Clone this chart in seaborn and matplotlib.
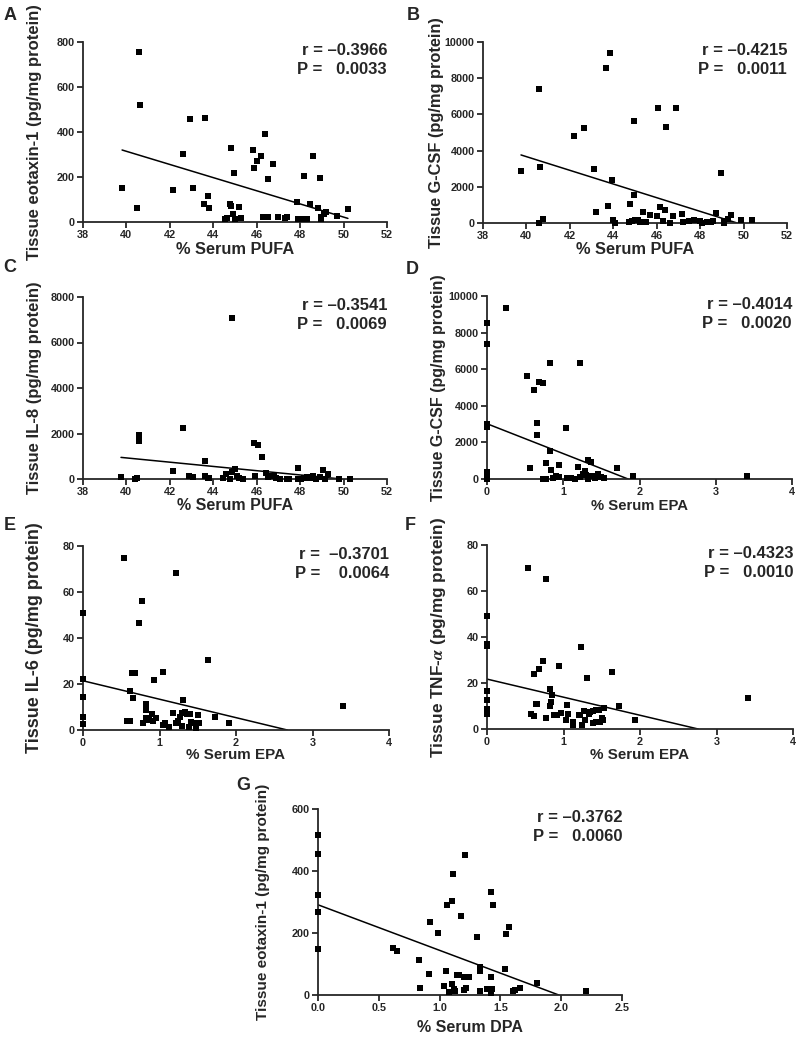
import seaborn as sns
import matplotlib.pyplot as plt
import pandas as pd

# datos
pufa_a = [39.8, 40.49, 40.56, 40.61, 42.14, 42.6, 42.93, 43.05, 43.57, 43.6, 43.76, 43.8, 44.55, 44.65,
          44.79, 44.83, 44.83, 44.9, 44.94, 45.0, 45.18, 45.27, 45.85, 45.88, 46.0, 46.2, 46.3, 46.4,
          46.5, 46.54, 46.75, 47.0, 47.3, 47.4, 47.86, 47.9, 48.05, 48.2, 48.3, 48.46, 48.6, 48.8,
          48.9, 48.95, 48.98, 49.1, 49.2, 49.7, 50.2]
eotaxin_a = [149, 64, 756, 518, 142, 303, 456, 151, 81, 462, 115, 61, 12, 18,
             78, 72, 331, 37, 219, 12, 65, 19, 322, 238, 271, 293, 24, 393,
             24, 189, 257, 24, 16, 24, 89, 12, 15, 204, 12, 78, 293, 61,
             197, 12, 24, 34, 44, 27, 59]

pufa_b = [39.75, 40.56, 40.64, 40.6, 40.76, 42.2, 42.65, 43.1, 43.22, 43.65, 43.74, 43.85, 43.94,
          43.99, 44.1, 44.72, 44.79, 44.85, 44.94, 44.95, 45.0, 45.15, 45.25, 45.37, 45.5, 45.68,
          46.0, 46.05, 46.17, 46.3, 46.4, 46.45, 46.6, 46.75, 46.9, 47.16, 47.2, 47.5, 47.7, 48.0,
          48.1, 48.3, 48.5, 48.6, 48.75, 48.96, 49.08, 49.1, 49.3, 49.4, 49.88, 50.39]
gcsf_b = [2850, 0, 3070, 7400, 240, 4800, 5270, 3010, 590, 8560, 920, 9390, 2370,
          150, 0, 80, 1035, 120, 1530, 5660, 150, 180, 60, 610, 40, 425,
          370, 6340, 890, 120, 700, 5320, 20, 370, 6340, 480, 30, 120, 150, 120,
          0, 30, 60, 100, 555, 2770, 90, 10, 240, 425, 185, 185]

pufa_c = [39.75, 40.4, 40.47, 40.56, 40.6, 42.13, 42.6, 42.9, 43.05, 43.6, 43.6, 43.75, 43.8, 44.46,
          44.58, 44.76, 44.88, 44.86, 45.0, 45.1, 45.2, 45.36, 45.88, 45.92, 46.04, 46.24, 46.43,
          46.5, 46.6, 46.8, 46.9, 47.05, 47.4, 47.5, 47.9, 47.9, 48.05, 48.2, 48.3, 48.45, 48.6,
          48.75, 48.9, 49.04, 49.15, 49.3, 49.8, 50.3]
il8_c = [90, 10, 30, 1940, 1690, 365, 2250, 120, 90, 775, 120, 60, 30, 45,
         220, 0, 305, 7080, 440, 120, 45, 0, 1580, 120, 1475, 950, 265,
         75, 120, 120, 45, 0, 0, 0, 480, 10, 20, 60, 90, 40, 150,
         20, 80, 395, 0, 235, 15, 0]

epa_d = [0, 0, 0, 0, 0, 0, 0, 0.25, 0.53, 0.57, 0.62, 0.66, 0.66, 0.68, 0.73, 0.74, 0.77, 0.78,
         0.83, 0.83, 0.84, 0.86, 0.9, 0.94, 0.95, 1.04, 1.05, 1.1, 1.15, 1.19, 1.22, 1.22, 1.26,
         1.28, 1.3, 1.32, 1.33, 1.36, 1.38, 1.42, 1.45, 1.5, 1.53, 1.71, 1.91, 3.41]
gcsf_d = [8520, 7400, 3020, 2840, 380, 200, 0, 9360, 5630, 620, 4850, 3060, 2390, 5300, 5250, 0, 890, 20,
          6340, 1530, 470, 60, 150, 750, 120, 2770, 50, 80, 20, 655, 6340, 120, 300,
          420, 200, 1060, 10, 950, 140, 60, 250, 130, 80, 620, 145, 160]

epa_e = [0, 0, 0, 0, 0, 0.54, 0.57, 0.61, 0.61, 0.64, 0.66, 0.68, 0.73, 0.77, 0.78, 0.83, 0.83,
         0.83, 0.86, 0.9, 0.92, 0.93, 0.96, 1.04, 1.05, 1.07, 1.13, 1.18, 1.22, 1.22, 1.24, 1.27,
         1.29, 1.29, 1.31, 1.33, 1.36, 1.38, 1.4, 1.41, 1.44, 1.48, 1.5, 1.52, 1.64, 1.72, 1.91, 3.4]
il6_e = [51, 22, 14.2, 5.8, 2.6, 74.9, 4.1, 16.8, 3.8, 24.9, 13.8, 24.8, 46.4, 55.9, 2.9, 11.2, 8.7,
         5.1, 4.3, 7.0, 4.1, 21.6, 5.1, 2.2, 25.2, 2.9, 1.2, 7.2, 68.4, 2.9, 4.1, 5.8,
         1.7, 7.2, 13.0, 8.0, 7.0, 1.2, 7.0, 3.6, 2.9, 0.7, 6.5, 2.9, 30.4, 5.7, 2.9, 10.4]

epa_f = [0, 0, 0, 0, 0, 0, 0, 0, 0.54, 0.57, 0.61, 0.62, 0.64, 0.66, 0.68, 0.73, 0.77, 0.77,
         0.83, 0.83, 0.84, 0.85, 0.87, 0.92, 0.94, 0.97, 1.03, 1.04, 1.06, 1.12, 1.13, 1.2, 1.22,
         1.23, 1.24, 1.27, 1.28, 1.31, 1.33, 1.35, 1.38, 1.39, 1.43, 1.43, 1.47, 1.48, 1.5, 1.52,
         1.53, 1.64, 1.73, 1.93, 3.41]
tnf_f = [49.2, 36.9, 35.9, 16.6, 12.4, 8.7, 7.7, 6.7, 69.9, 6.5, 5.5, 24.0, 10.9, 11.0, 26.2, 29.7, 65.4, 4.8,
         17.4, 9.8, 11.6, 14.6, 6.1, 6.2, 27.2, 6.9, 4.1, 10.3, 6.7, 3.0, 1.9, 6.2, 5.9,
         35.6, 1.9, 8.0, 3.8, 22.1, 6.7, 7.4, 2.6, 8.0, 8.4, 3.0, 8.4, 3.0, 4.8, 3.8,
         9.1, 25.0, 10.1, 3.8, 13.5]

dpa_g = [0, 0, 0, 0, 0, 0.62, 0.65, 0.83, 0.84, 0.91, 0.92, 0.99, 1.04, 1.05, 1.06, 1.08, 1.1, 1.1,
         1.11, 1.12, 1.13, 1.14, 1.16, 1.18, 1.2, 1.2, 1.21, 1.22, 1.24, 1.31, 1.33, 1.33, 1.33,
         1.39, 1.42, 1.42, 1.42, 1.43, 1.44, 1.54, 1.55, 1.57, 1.6, 1.62, 1.66, 1.8, 2.2]
eotaxin_g = [517, 455, 323, 269, 148, 151, 142, 113, 23, 68, 237, 199, 28, 77, 291, 10, 34, 302,
             390, 20, 12, 66, 64, 256, 58, 16, 453, 22, 59, 186, 89, 79, 12,
             19, 59, 331, 8, 19, 289, 84, 196, 218, 14, 16, 22, 40, 14]

# lineas de regresion (extremos leidos)
fit_x = {"A": [39.8, 50.2], "B": [39.75, 49.7], "C": [39.75, 49.9], "D": [0, 1.85],
         "E": [0, 2.67], "F": [0, 2.76], "G": [0, 1.98]}
fit_y = {"A": [320, 16], "B": [3760, 0], "C": [950, 0], "D": [3020, 0],
         "E": [21.4, 0], "F": [21.7, 0], "G": [291, 0]}

r_text = {"A": "r = \u20130.3966", "B": "r = \u20130.4215", "C": "r = \u20130.3541", "D": "r = \u20130.4014",
          "E": "r =  \u20130.3701", "F": "r = \u20130.4323", "G": "r = \u20130.3762"}
p_text = {"A": "P =   0.0033", "B": "P =   0.0011", "C": "P =   0.0069", "D": "P =   0.0020",
          "E": "P =    0.0064", "F": "P =   0.0010", "G": "P =   0.0060"}

sns.set_style("ticks")
plt.rcParams['font.family'] = ['Liberation Sans', 'DejaVu Sans']
plt.rcParams['font.weight'] = 'bold'
plt.rcParams['mathtext.fontset'] = 'stix'

W, H = 800, 1037
fig = plt.figure(figsize=(W / 100, H / 100), dpi=100)


def caja(l, r, t, b):
    return [l / W, 1 - b / H, (r - l) / W, (b - t) / H]


paneles = [
    # letra, x, y, caja(px), xlim, xticks, ylim, yticks, xlabel, ylabel,
    # x del ylabel, tamano del ylabel, linea base del xlabel, tamano del xlabel
    ("A", pufa_a, eotaxin_a, (83, 387, 42, 222), (38, 52), range(38, 53, 2), (0, 800), range(0, 801, 200),
     "% Serum PUFA", "Tissue eotaxin-1 (pg/mg protein)", 35, 12, 254, 11.8),
    ("B", pufa_b, gcsf_b, (483, 787, 42, 223), (38, 52), range(38, 53, 2), (0, 10000), range(0, 10001, 2000),
     "% Serum PUFA", "Tissue G-CSF (pg/mg protein)", 436, 11.8, 254, 11.8),
    ("C", pufa_c, il8_c, (83, 387, 297, 479), (38, 52), range(38, 53, 2), (0, 8000), range(0, 8001, 2000),
     "% Serum PUFA", "Tissue IL-8 (pg/mg protein)", 35, 12, 510, 11.5),
    ("D", epa_d, gcsf_d, (487, 792, 296, 479), (0, 4), range(0, 5), (0, 10000), range(0, 10001, 2000),
     "% Serum EPA", "Tissue G-CSF (pg/mg protein)", 438, 11.5, 510, 10.7),
    ("E", epa_e, il6_e, (83, 389, 546, 730), (0, 4), range(0, 5), (0, 80), range(0, 81, 20),
     "% Serum EPA", "Tissue IL-6 (pg/mg protein)", 35, 13, 759, 10.9),
    ("F", epa_f, tnf_f, (487, 793, 545, 729), (0, 4), range(0, 5), (0, 80), range(0, 81, 20),
     "% Serum EPA", r"Tissue TNF-$\alpha$ (pg/mg protein)", 438, 12.4, 759, 10.9),
    ("G", dpa_g, eotaxin_g, (318, 622, 809, 995), (0, 2.5), [0, 0.5, 1.0, 1.5, 2.0, 2.5], (0, 600),
     range(0, 601, 200), "% Serum DPA", "Tissue eotaxin-1 (pg/mg protein)", 263, 11, 1032, 11.5),
]

for letra, xs, ys, px, xlim, xticks, ylim, yticks, xlab, ylab, ylx, yls, xlb, xls in paneles:
    l, r, t, b = px
    ax = fig.add_axes(caja(l, r, t, b))
    df = pd.DataFrame({"x": xs, "y": ys})
    sns.scatterplot(data=df, x="x", y="y", ax=ax, marker="s", color="black", s=24,
                    linewidth=0, clip_on=False, zorder=3)
    ax.plot(fit_x[letra], fit_y[letra], color="black", lw=1.1)
    ax.set_xlim(xlim)
    ax.set_ylim(ylim)
    ax.set_xticks(list(xticks))
    ax.set_yticks(list(yticks))
    if letra == "G":
        ax.set_xticklabels(["0.0", "0.5", "1.0", "1.5", "2.0", "2.5"])
    sns.despine(ax=ax)
    for lado in ["left", "bottom"]:
        ax.spines[lado].set_linewidth(1.3)
    ax.tick_params(direction="out", length=4, width=1.3, labelsize=7.8, pad=2)
    for tl in ax.get_xticklabels() + ax.get_yticklabels():
        tl.set_fontweight("bold")
    ax.set_xlabel("")
    ax.set_ylabel("")
    fig.text(((l + r) / 2) / W, 1 - xlb / H, xlab, ha="center", va="baseline",
             fontsize=xls, fontweight="bold")
    fig.text(ylx / W, 1 - ((t + b) / 2) / H, ylab, ha="center", va="center", rotation=90,
             fontsize=yls, fontweight="bold")
    ax.text(1.0, 0.955, r_text[letra], transform=ax.transAxes, ha="right", va="center",
            fontsize=12, fontweight="bold")
    ax.text(1.0, 0.85, p_text[letra], transform=ax.transAxes, ha="right", va="center",
            fontsize=12, fontweight="bold")

letras = {"A": (10, 15), "B": (413, 15), "C": (10, 268), "D": (412, 270),
          "E": (10, 525), "F": (410, 525), "G": (243, 785)}
for letra, (lx, ly) in letras.items():
    fig.text(lx / W, 1 - ly / H, letra, ha="center", va="center", fontsize=13, fontweight="bold")

plt.savefig("out.png", dpi=100)
